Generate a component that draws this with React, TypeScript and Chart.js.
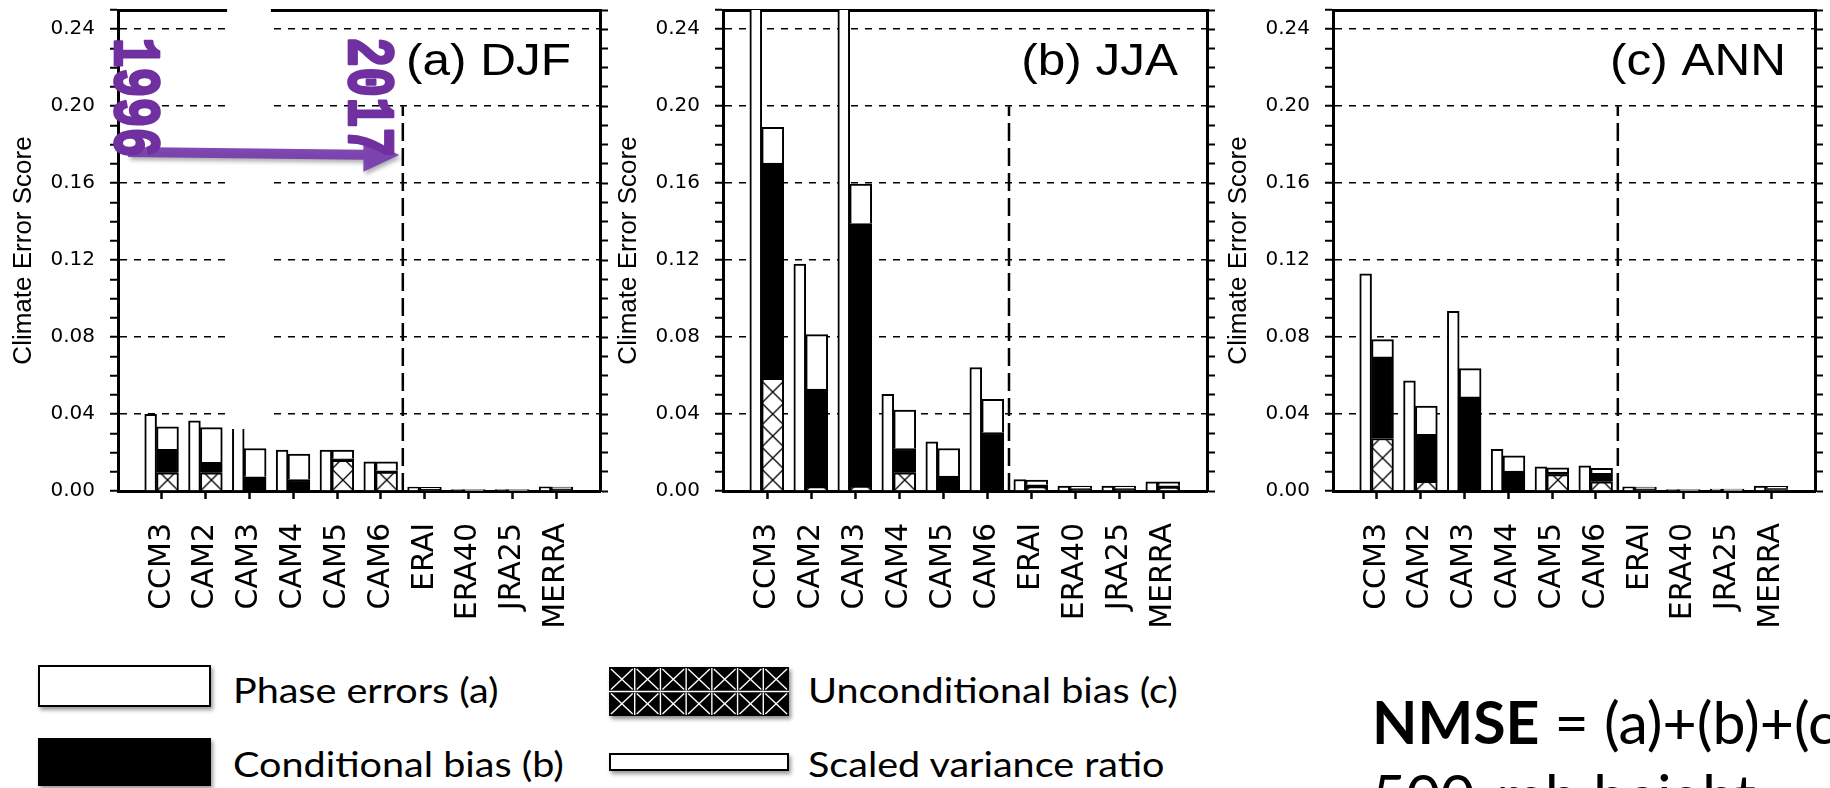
import React, { useEffect, useRef } from 'react';
import { Chart, registerables } from 'chart.js';

Chart.register(...registerables);

// ---------------- data ----------------
const CATEGORIES = ['CCM3', 'CAM2', 'CAM3', 'CAM4', 'CAM5', 'CAM6', 'ERAI', 'ERA40', 'JRA25', 'MERRA'];

// (a) DJF
const DJF_VARIANCE = [0.0398, 0.0365, 0.036, 0.0213, 0.0213, 0.0152, 0.002, 0.0008, 0.0008, 0.0022];
const DJF_UNCOND = [0.0095, 0.0095, 0.0, 0.0, 0.016, 0.0098, 0.0005, 0.0002, 0.0002, 0.0005];
const DJF_COND = [0.0121, 0.0054, 0.0074, 0.006, 0.0007, 0.0007, 0.0005, 0.0002, 0.0002, 0.0006];
const DJF_PHASE = [0.0118, 0.018, 0.0147, 0.0132, 0.0046, 0.0047, 0.0009, 0.0004, 0.0004, 0.001];

// (b) JJA
const JJA_VARIANCE = [0.3, 0.118, 0.3, 0.0503, 0.0256, 0.0642, 0.006, 0.0026, 0.0026, 0.0048];
const JJA_UNCOND = [0.0585, 0.002, 0.0026, 0.0095, 0.0, 0.0, 0.002, 0.0006, 0.0006, 0.0015];
const JJA_COND = [0.112, 0.051, 0.1364, 0.0126, 0.0078, 0.0304, 0.0012, 0.0006, 0.0006, 0.0012];
const JJA_PHASE = [0.0185, 0.0283, 0.0205, 0.0199, 0.0143, 0.0173, 0.0025, 0.0014, 0.0014, 0.0021];

// (c) ANN
const ANN_VARIANCE = [0.1129, 0.0572, 0.0934, 0.0216, 0.0126, 0.0131, 0.0022, 0.0008, 0.001, 0.0025];
const ANN_UNCOND = [0.0273, 0.005, 0.0, 0.0, 0.0085, 0.0048, 0.0005, 0.0002, 0.0002, 0.0006];
const ANN_COND = [0.0424, 0.0244, 0.0489, 0.0104, 0.0013, 0.0044, 0.0006, 0.0002, 0.0003, 0.0007];
const ANN_PHASE = [0.009, 0.0147, 0.0147, 0.0079, 0.0023, 0.0026, 0.001, 0.0004, 0.0005, 0.0011];

const PANEL_LABELS = ['(a) DJF', '(b) JJA', '(c) ANN'];
const Y_AXIS_TITLE = 'Climate Error Score';
const YEAR_LABELS = ['1996', '2017'];

// axis ranges
const X_MAX = 11;
const Y_MAX = 0.25;
const Y_STEP = 0.01;
const Y_MAJOR = 0.04;
const SEPARATOR_X = 6.5;
const SEPARATOR_TOP = 0.2;

// ---------------- layout ----------------
const AXIS_W = 118;
const RIGHT_W = 12;
const CANVAS_H = 660;
const TOP_PAD = 10;
const X_AXIS_H = 169;
const PANEL_LEFTS = [118, 723, 1333];
const PANEL_WIDTHS = [482, 484, 482];
const NARROW_OFFSET = -0.255;
const NARROW_WIDTH = 0.27;
const WIDE_OFFSET = 0.13;
const WIDE_WIDTH = 0.5;
const PURPLE = '#7030A0';

const isMajor = (v: number) => {
  const r = v / Y_MAJOR;
  return Math.abs(r - Math.round(r)) < 1e-6;
};

function makeHatch(chart: any, leftPx: number, basePx: number, size: number) {
  const s = Math.max(4, Math.round(size));
  const tile = document.createElement('canvas');
  tile.width = s;
  tile.height = s;
  const t = tile.getContext('2d')!;
  t.fillStyle = '#fff';
  t.fillRect(0, 0, s, s);
  t.strokeStyle = '#000';
  t.lineWidth = 1.3;
  t.beginPath();
  t.moveTo(0, 0);
  t.lineTo(s, s);
  t.moveTo(s, 0);
  t.lineTo(0, s);
  t.stroke();
  const pat: any = chart.ctx.createPattern(tile, 'repeat');
  if (pat && pat.setTransform) pat.setTransform(new DOMMatrix([1, 0, 0, 1, leftPx, basePx]));
  return pat || '#fff';
}

const panelLabelPlugin = {
  id: 'panelLabel',
  afterDraw(chart: any, _args: any, opts: any) {
    if (!opts || !opts.text) return;
    const { ctx, chartArea } = chart;
    ctx.save();
    ctx.font = '45px "Liberation Sans", Arial, sans-serif';
    ctx.fillStyle = '#000';
    ctx.textAlign = 'right';
    ctx.textBaseline = 'alphabetic';
    ctx.translate(chartArea.right - 29, chartArea.top + 65);
    ctx.scale(1.1, 1);
    ctx.fillText(opts.text, 0, 0);
    ctx.restore();
  },
};

// overlay (white mask, years and arrow) in data units of panel (a)
const MASK_X = [2.49, 3.49];
const MASK_Y = 0.0322;
const ARROW_START = [0.23, 0.1762];
const ARROW_SHAFT_END = [5.6, 0.1748];
const ARROW_TIP = [6.42, 0.1746];
const YEAR_POS = [[0.33, 0.2045], [5.67, 0.2047]];

const slideOverlayPlugin = {
  id: 'slideOverlay',
  afterDraw(chart: any, _args: any, opts: any) {
    if (!opts || !opts.enabled) return;
    const { ctx } = chart;
    const xs = chart.scales.x;
    const ys = chart.scales.y;
    const px = (v: number) => xs.getPixelForValue(v);
    const py = (v: number) => ys.getPixelForValue(v);
    ctx.save();
    // white mask
    ctx.fillStyle = '#fff';
    const mx0 = px(MASK_X[0]);
    const mx1 = px(MASK_X[1]);
    ctx.fillRect(mx0, 0, mx1 - mx0, py(MASK_Y));
    // arrow
    ctx.save();
    ctx.shadowColor = 'rgba(0,0,0,0.35)';
    ctx.shadowBlur = 4;
    ctx.shadowOffsetX = 2;
    ctx.shadowOffsetY = 3;
    ctx.fillStyle = 'rgba(118, 58, 172, 0.92)';
    const sx = px(ARROW_START[0]);
    const sy = py(ARROW_START[1]);
    const ex = px(ARROW_SHAFT_END[0]);
    const ey = py(ARROW_SHAFT_END[1]);
    const tx = px(ARROW_TIP[0]);
    const ty = py(ARROW_TIP[1]);
    ctx.beginPath();
    ctx.moveTo(sx, sy - 5);
    ctx.lineTo(ex, ey - 5);
    ctx.lineTo(ex, ey - 17);
    ctx.lineTo(tx, ty);
    ctx.lineTo(ex, ey + 17);
    ctx.lineTo(ex, ey + 5);
    ctx.lineTo(sx, sy + 5);
    ctx.closePath();
    ctx.fill();
    ctx.restore();
    // year labels
    ctx.fillStyle = PURPLE;
    ctx.strokeStyle = PURPLE;
    ctx.lineWidth = 2;
    ctx.lineJoin = 'round';
    ctx.font = 'bold 50px "Liberation Mono", "Courier New", monospace';
    ctx.textAlign = 'center';
    ctx.textBaseline = 'middle';
    YEAR_LABELS.forEach((label, i) => {
      ctx.save();
      ctx.translate(px(YEAR_POS[i][0]), py(YEAR_POS[i][1]));
      ctx.rotate(Math.PI / 2);
      ctx.scale(1, 1.35);
      ctx.fillText(label, 0, 0);
      ctx.strokeText(label, 0, 0);
      ctx.restore();
    });
    ctx.restore();
  },
};

type PanelProps = {
  left: number;
  plotWidth: number;
  label: string;
  variance: number[];
  uncond: number[];
  cond: number[];
  phase: number[];
  overlay?: boolean;
};

function Panel(p: PanelProps) {
  const ref = useRef<HTMLCanvasElement | null>(null);
  const canvasW = AXIS_W + p.plotWidth + RIGHT_W;

  useEffect(() => {
    const canvas = ref.current;
    if (!canvas) return;
    const pxPerUnit = p.plotWidth / X_MAX;
    const narrowT = NARROW_WIDTH * pxPerUnit;
    const wideT = WIDE_WIDTH * pxPerUnit;
    const nx = (i: number) => i + 1 + NARROW_OFFSET;
    const wx = (i: number) => i + 1 + WIDE_OFFSET;

    const hatch = (c: any) => {
      if (c.type !== 'data') return '#fff';
      const chart = c.chart;
      const cx = chart.scales.x.getPixelForValue(wx(c.dataIndex));
      const base = chart.scales.y.getPixelForValue(0);
      return makeHatch(chart, cx - wideT / 2, base, wideT);
    };

    const bar = {
      type: 'bar' as const,
      borderColor: '#000',
      borderWidth: 2,
      grouped: false,
      xAxisID: 'x',
      yAxisID: 'y',
    };

    const chart = new Chart(canvas, {
      type: 'bar',
      data: {
        datasets: [
          {
            ...bar,
            label: 'Scaled variance ratio',
            data: p.variance.map((v, i) => ({ x: nx(i), y: v })),
            backgroundColor: '#fff',
            barThickness: narrowT,
            stack: 'narrow',
          },
          {
            ...bar,
            label: 'Unconditional bias (c)',
            data: p.uncond.map((v, i) => ({ x: wx(i), y: v })),
            backgroundColor: hatch,
            barThickness: wideT,
            stack: 'wide',
          },
          {
            ...bar,
            label: 'Conditional bias (b)',
            data: p.cond.map((v, i) => ({ x: wx(i), y: v })),
            backgroundColor: '#000',
            barThickness: wideT,
            stack: 'wide',
          },
          {
            ...bar,
            label: 'Phase errors (a)',
            data: p.phase.map((v, i) => ({ x: wx(i), y: v })),
            backgroundColor: '#fff',
            barThickness: wideT,
            stack: 'wide',
          },
          {
            type: 'line',
            label: 'separator',
            data: [
              { x: SEPARATOR_X, y: 0 },
              { x: SEPARATOR_X, y: SEPARATOR_TOP },
            ],
            borderColor: '#000',
            borderWidth: 2.5,
            borderDash: [18, 7],
            pointRadius: 0,
            fill: false,
            stack: 'sep',
            xAxisID: 'x',
            yAxisID: 'y',
          } as any,
        ] as any,
      },
      options: {
        responsive: false,
        animation: false,
        devicePixelRatio: 1,
        events: [],
        layout: { padding: { top: TOP_PAD, right: 0, bottom: 0, left: 0 }, autoPadding: false } as any,
        plugins: {
          legend: { display: false },
          tooltip: { enabled: false },
          panelLabel: { text: p.label },
          slideOverlay: { enabled: !!p.overlay },
        } as any,
        scales: {
          x: {
            type: 'linear',
            position: 'bottom',
            min: 0,
            max: X_MAX,
            offset: false,
            z: 1,
            ticks: {
              stepSize: 1,
              autoSkip: false,
              minRotation: 90,
              maxRotation: 90,
              padding: 24,
              color: '#000',
              font: { family: '"DejaVu Sans", sans-serif', size: 30 },
              callback: (v: any) => {
                const n = Math.round(Number(v));
                return n >= 1 && n <= CATEGORIES.length ? CATEGORIES[n - 1] : '';
              },
            },
            grid: {
              offset: false,
              drawOnChartArea: false,
              drawTicks: true,
              tickLength: 8,
              tickWidth: 2.5,
              tickColor: (c: any) => {
                const v = c.tick ? c.tick.value : -1;
                return v >= 1 && v <= CATEGORIES.length ? '#000' : 'rgba(0,0,0,0)';
              },
            },
            border: { display: true, color: '#000', width: 3 },
            afterFit: (s: any) => {
              s.height = X_AXIS_H;
              s.paddingLeft = 0;
              s.paddingRight = 0;
            },
          },
          xTop: {
            type: 'linear',
            position: 'top',
            min: 0,
            max: X_MAX,
            z: 1,
            ticks: { display: false },
            grid: { display: false, drawTicks: false },
            border: { display: true, color: '#000', width: 3 },
            afterFit: (s: any) => {
              s.height = 0;
              s.paddingLeft = 0;
              s.paddingRight = 0;
            },
          },
          y: {
            type: 'linear',
            position: 'left',
            min: 0,
            max: Y_MAX,
            stacked: true,
            ticks: {
              stepSize: Y_STEP,
              autoSkip: false,
              padding: 15,
              color: '#000',
              font: { family: '"DejaVu Sans", sans-serif', size: 20 },
              callback: (v: any) => (isMajor(Number(v)) ? Number(v).toFixed(2) : ''),
            },
            grid: {
              drawOnChartArea: true,
              color: (c: any) => {
                const v = c.tick ? c.tick.value : 0;
                return v > 1e-6 && isMajor(v) ? '#000' : 'rgba(0,0,0,0)';
              },
              lineWidth: 1.5,
              tickColor: '#000',
              tickLength: 8,
              tickWidth: 2,
            },
            border: { display: true, color: '#000', width: 3, dash: [7, 7] },
            title: {
              display: true,
              text: Y_AXIS_TITLE,
              color: '#000',
              font: { family: '"Liberation Sans", Arial, sans-serif', size: 26 },
              padding: { top: 8, bottom: 0 },
            },
            afterFit: (s: any) => {
              s.width = AXIS_W;
              s.paddingTop = 0;
              s.paddingBottom = 0;
            },
          },
          yRight: {
            type: 'linear',
            position: 'right',
            min: 0,
            max: Y_MAX,
            ticks: { stepSize: Y_STEP, display: false },
            grid: {
              drawOnChartArea: false,
              color: '#000',
              tickColor: '#000',
              tickLength: 8,
              tickWidth: 2,
            },
            border: { display: true, color: '#000', width: 3 },
            afterFit: (s: any) => {
              s.width = RIGHT_W;
              s.paddingTop = 0;
              s.paddingBottom = 0;
            },
          },
        } as any,
      },
      plugins: [panelLabelPlugin, slideOverlayPlugin],
    } as any);
    return () => chart.destroy();
  }, []);

  return (
    <canvas
      ref={ref}
      width={canvasW}
      height={CANVAS_H}
      style={{ position: 'absolute', left: p.left - AXIS_W, top: 0, width: canvasW, height: CANVAS_H }}
    />
  );
}

const LEGEND_FONT = 'Lato, "Open Sans", sans-serif';

function LegendText({ x, baseline, text }: { x: number; baseline: number; text: string }) {
  const size = 35;
  return (
    <div
      style={{
        position: 'absolute',
        left: x,
        top: baseline - size * 0.887,
        fontFamily: LEGEND_FONT,
        fontSize: size,
        lineHeight: 1,
        whiteSpace: 'nowrap',
        color: '#000',
        transform: 'scaleX(1.13)',
        transformOrigin: 'left top',
      }}
    >
      {text}
    </div>
  );
}

function HatchBox({ x, y, w, h }: { x: number; y: number; w: number; h: number }) {
  const cols = 7;
  const rows = 2;
  const cw = w / cols;
  const rh = h / rows;
  const lines: any[] = [];
  for (let r = 0; r < rows; r++) {
    for (let c = 0; c < cols; c++) {
      const x0 = c * cw;
      const y0 = r * rh;
      lines.push(<line key={`a${r}${c}`} x1={x0 + 2} y1={y0 + 2} x2={x0 + cw - 2} y2={y0 + rh - 2} />);
      lines.push(<line key={`b${r}${c}`} x1={x0 + cw - 2} y1={y0 + 2} x2={x0 + 2} y2={y0 + rh - 2} />);
      if (c > 0) lines.push(<line key={`v${r}${c}`} x1={x0} y1={y0 + 1} x2={x0} y2={y0 + rh - 1} />);
    }
  }
  return (
    <svg
      width={w}
      height={h}
      style={{ position: 'absolute', left: x, top: y, boxShadow: '2px 3px 4px rgba(0,0,0,0.45)' }}
    >
      <rect x={0} y={0} width={w} height={h} fill="#000" />
      <g stroke="#fff" strokeWidth={1.4}>
        {lines}
        <line x1={0} y1={h / 2} x2={w} y2={h / 2} />
      </g>
    </svg>
  );
}

export default function App() {
  const boxShadow = '2px 3px 4px rgba(0,0,0,0.4)';
  const formulaSize = 59;
  return (
    <div
      style={{
        position: 'fixed',
        left: 0,
        top: 0,
        width: 1830,
        height: 788,
        overflow: 'hidden',
        background: '#fff',
      }}
    >
      <Panel
        left={PANEL_LEFTS[0]}
        plotWidth={PANEL_WIDTHS[0]}
        label={PANEL_LABELS[0]}
        variance={DJF_VARIANCE}
        uncond={DJF_UNCOND}
        cond={DJF_COND}
        phase={DJF_PHASE}
        overlay
      />
      <Panel
        left={PANEL_LEFTS[1]}
        plotWidth={PANEL_WIDTHS[1]}
        label={PANEL_LABELS[1]}
        variance={JJA_VARIANCE}
        uncond={JJA_UNCOND}
        cond={JJA_COND}
        phase={JJA_PHASE}
      />
      <Panel
        left={PANEL_LEFTS[2]}
        plotWidth={PANEL_WIDTHS[2]}
        label={PANEL_LABELS[2]}
        variance={ANN_VARIANCE}
        uncond={ANN_UNCOND}
        cond={ANN_COND}
        phase={ANN_PHASE}
      />

      {/* legend */}
      <div
        style={{
          position: 'absolute', left: 38, top: 665, width: 173, height: 42,
          border: '2px solid #000', background: '#fff', boxSizing: 'border-box', boxShadow,
        }}
      />
      <div
        style={{
          position: 'absolute', left: 38, top: 738, width: 173, height: 48,
          background: '#000', boxShadow,
        }}
      />
      <HatchBox x={609} y={667} w={180} h={49} />
      <div
        style={{
          position: 'absolute', left: 609, top: 753, width: 180, height: 18,
          border: '2px solid #000', background: '#fff', boxSizing: 'border-box', boxShadow,
        }}
      />
      <LegendText x={233} baseline={703} text="Phase errors (a)" />
      <LegendText x={233} baseline={777} text="Conditional bias (b)" />
      <LegendText x={808} baseline={703} text="Unconditional bias (c)" />
      <LegendText x={808} baseline={777} text="Scaled variance ratio" />

      {/* formula text */}
      <div
        style={{
          position: 'absolute', left: 1372, top: 744 - formulaSize * 0.887,
          fontFamily: LEGEND_FONT, fontSize: formulaSize, lineHeight: 1, whiteSpace: 'nowrap', color: '#000',
        }}
      >
        <span style={{ fontWeight: 'bold' }}>NMSE</span> = (a)+(b)+(c)
      </div>
      <div
        style={{
          position: 'absolute', left: 1372, top: 817 - formulaSize * 0.887,
          fontFamily: LEGEND_FONT, fontSize: formulaSize, lineHeight: 1, whiteSpace: 'nowrap', color: '#000',
        }}
      >
        500-mb height
      </div>
    </div>
  );
}
